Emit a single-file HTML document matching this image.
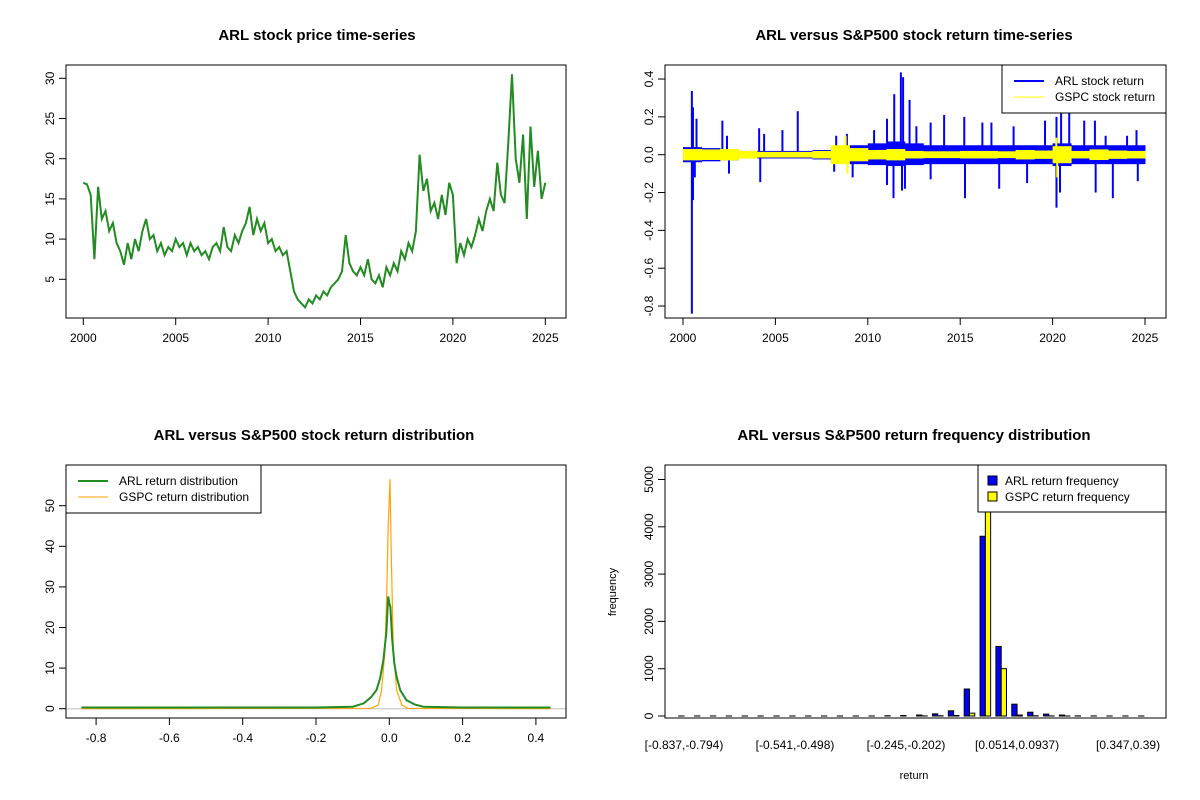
<!DOCTYPE html>
<html><head><meta charset="utf-8"><style>
body{margin:0;background:#fff}
svg{display:block;font-family:"Liberation Sans",Arial,sans-serif}
text{fill:#000}
</style></head><body>
<svg id="chart" width="1200" height="800" viewBox="0 0 1200 800">
<rect width="1200" height="800" fill="#fff"/>
</svg>
<script>
// ---------- DATA ----------
const priceStartYear = 2000;
const priceStepYears = 0.2;
const priceValues = [17.0,16.8,15.5,7.5,16.5, 12.5,13.5,11.0,12.0,9.5, 8.5,6.8,9.5,7.5,10.0, 8.5,11.0,12.5,10.0,10.5,
 8.5,9.5,8.0,9.0,8.5, 10.0,9.0,9.5,8.0,9.5, 8.5,9.0,8.0,8.5,7.5, 9.0,9.5,8.5,11.5,9.0, 8.5,10.5,9.5,11.0,12.0,
 14.0,10.5,12.5,11.0,12.0, 9.5,10.0,8.5,9.0,8.0, 8.5,6.0,3.5,2.5,2.0, 1.5,2.5,2.0,3.0,2.5, 3.5,3.0,4.0,4.5,5.0,
 6.0,10.5,7.0,6.0,5.5, 6.5,5.5,7.5,5.0,4.5, 5.5,4.0,6.5,5.5,7.0, 6.0,8.5,7.5,9.5,8.5, 11.0,20.5,16.0,17.5,13.5,
 14.5,12.5,15.5,13.0,17.0, 15.5,7.0,9.5,8.0,10.0, 9.0,10.5,12.5,11.0,13.5, 15.0,13.5,19.5,15.5,14.5,
 22.0,30.5,20.0,17.0,23.0, 12.5,24.0,16.5,21.0,15.0, 17.0];
const priceYTicks = [5,10,15,20,25,30];
const yearTicks = [2000,2005,2010,2015,2020,2025];

const bandYears = [2000,2001,2002,2003,2004,2005,2006,2007,2008,2009,2010,2011,2012,2013,2014,2015,2016,2017,2018,2019,2020,2021,2022,2023,2024];
const arlBandHi = [0.04,0.035,0.03,0.02,0.02,0.02,0.02,0.025,0.04,0.05,0.06,0.07,0.06,0.05,0.05,0.05,0.05,0.05,0.05,0.05,0.06,0.05,0.05,0.05,0.05];
const arlBandLo = [-0.04,-0.035,-0.03,-0.02,-0.02,-0.02,-0.02,-0.025,-0.04,-0.05,-0.055,-0.06,-0.055,-0.05,-0.05,-0.05,-0.05,-0.05,-0.05,-0.05,-0.06,-0.05,-0.05,-0.05,-0.05];
const gspcBand = [0.03,0.028,0.03,0.02,0.015,0.015,0.015,0.02,0.05,0.035,0.025,0.03,0.02,0.018,0.018,0.02,0.02,0.018,0.025,0.022,0.045,0.02,0.028,0.022,0.02];
const arlSpikeYears = [2000.48,2000.54,2000.73,2002.13,2002.38,2004.12,2004.39,2005.38,2006.21,2008.29,2008.87,2010.34,2011.04,2011.43,2011.79,2011.91,2012.26,2012.63,2013.40,2014.13,2015.22,2016.20,2016.69,2017.89,2019.59,2020.21,2020.46,2020.90,2021.71,2022.29,2022.87,2024.03,2024.54,
 2000.48,2000.54,2000.64,2002.49,2004.18,2008.18,2009.18,2011.04,2011.39,2011.85,2012.01,2013.40,2015.26,2017.11,2018.62,2020.21,2020.40,2022.33,2023.26,2024.61];
const arlSpikeValues = [0.337,0.25,0.19,0.18,0.10,0.14,0.11,0.13,0.23,0.10,0.11,0.13,0.19,0.32,0.435,0.41,0.29,0.15,0.17,0.21,0.20,0.17,0.17,0.15,0.18,0.20,0.25,0.22,0.18,0.18,0.10,0.10,0.13,
 -0.84,-0.24,-0.12,-0.10,-0.145,-0.09,-0.12,-0.16,-0.23,-0.19,-0.18,-0.13,-0.23,-0.18,-0.15,-0.28,-0.20,-0.20,-0.23,-0.14];
const gspcSpikeYears = [2008.8,2008.9,2020.2,2020.25];
const gspcSpikeValues = [0.10,-0.10,0.09,-0.12];
const returnYTicks = [-0.8,-0.6,-0.4,-0.2,0.0,0.2,0.4];
const returnYLabels = ["-0.8","-0.6","-0.4","-0.2","0.0","0.2","0.4"];

const arlDensX = [-0.84,-0.2,-0.1,-0.07,-0.05,-0.035,-0.025,-0.016,-0.008,-0.003,0,0.003,0.008,0.014,0.02,0.03,0.047,0.07,0.093,0.2,0.44];
const arlDensY = [0.3,0.3,0.5,1.3,2.8,4.6,7.5,12,19,27.6,26,25,17,11,7.9,4.5,2.1,1.0,0.5,0.3,0.3];
const gspcDensX = [-0.84,-0.05,-0.03,-0.021,-0.012,-0.007,-0.003,0.002,0.005,0.011,0.02,0.034,0.05,0.44];
const gspcDensY = [0,0.1,0.9,4.6,14,28,45,56.5,40,15,4.6,0.9,0.1,0];
const densXTicks = [-0.8,-0.6,-0.4,-0.2,0.0,0.2,0.4];
const densXLabels = ["-0.8","-0.6","-0.4","-0.2","0.0","0.2","0.4"];
const densYTicks = [0,10,20,30,40,50];

const arlFreq = [1,1,1,1,1,1,1,1,1,1,1,1,1,5,10,20,45,110,570,3800,1470,250,80,40,20,3,2,1,1,1];
const gspcFreq = [0,0,0,0,0,0,0,0,0,0,0,0,0,0,0,2,5,10,60,5700,1000,20,5,2,1,0,0,0,0,0];
const histLabelIdx = [0,7,14,21,28];
const histLabels = ["[-0.837,-0.794)","[-0.541,-0.498)","[-0.245,-0.202)","[0.0514,0.0937)","[0.347,0.39)"];
const freqYTicks = [0,1000,2000,3000,4000,5000];

// ---------- HELPERS ----------
const svg = document.getElementById('chart');
const NS = 'http://www.w3.org/2000/svg';
function mk(tag, attrs, parent){
  const e = document.createElementNS(NS, tag);
  for (const k in attrs) e.setAttribute(k, attrs[k]);
  (parent||svg).appendChild(e);
  return e;
}
function txt(s, x, y, size, anchor, parent, rot, bold){
  const t = mk('text', {x:x, y:y, 'font-size':size, 'text-anchor':anchor||'middle'}, parent);
  if (bold) t.setAttribute('font-weight','bold');
  if (rot) t.setAttribute('transform','rotate(-90 '+x+' '+y+')');
  t.textContent = s;
  return t;
}
function panel(name){
  const g = mk('g', {});
  
  
  return g;
}
function box(g, x0,y0,x1,y1){
  const r = mk('rect',{x:x0,y:y0,width:x1-x0,height:y1-y0,fill:'none',stroke:'#000','stroke-width':1}, g);
  
  
}
function xAxis(g, ticks, labels, sx, y, name){
  const a = mk('g',{}, g);
  
  
  mk('line',{x1:sx(ticks[0]),x2:sx(ticks[ticks.length-1]),y1:y,y2:y,stroke:'#000'},a);
  ticks.forEach((t,i)=>{
    mk('line',{x1:sx(t),x2:sx(t),y1:y,y2:y+7,stroke:'#000'},a);
    txt(labels[i], sx(t), y+24, 12, 'middle', a);
  });
}
function yAxis(g, ticks, labels, sy, x, name){
  const a = mk('g',{}, g);
  
  
  mk('line',{x1:x,x2:x,y1:sy(ticks[0]),y2:sy(ticks[ticks.length-1]),stroke:'#000'},a);
  ticks.forEach((t,i)=>{
    mk('line',{x1:x-7,x2:x,y1:sy(t),y2:sy(t),stroke:'#000'},a);
    txt(labels[i], x-12, sy(t), 12, 'middle', a, true);
  });
}
function legend(g, x0,y0,x1,y1, entries, name){
  const l = mk('g',{}, g);
  
  
  mk('rect',{x:x0,y:y0,width:x1-x0,height:y1-y0,fill:'#fff',stroke:'#000'},l);
  entries.forEach((e,i)=>{
    const cy = y0+16+i*16;
    if (e.type==='line') mk('line',{x1:x0+12,x2:x0+42,y1:cy,y2:cy,stroke:e.color,'stroke-width':e.w},l);
    else mk('rect',{x:x0+10,y:cy-5,width:9,height:9,fill:e.color,stroke:'#000'},l);
    txt(e.label, x0+(e.type==='line'?53:27), cy+4, 12, 'start', l);
  });
}

// ---------- PANEL 1: price ----------
(function(){
  const g = panel('price-panel');
  const sx = v => 83.3 + (v-2000)*(545.3-83.3)/25;
  const sy = v => 78.3 + (30-v)*(279.3-78.3)/25;
  txt('ARL stock price time-series', 317, 40, 15, 'middle', g, false, true);
  let d='';
  priceValues.forEach((v,i)=>{ d += (i?'L':'M')+sx(priceStartYear+i*priceStepYears).toFixed(1)+' '+sy(v).toFixed(1); });
  const p = mk('path',{d:d,fill:'none',stroke:'#228B22','stroke-width':2,'stroke-linejoin':'miter'},g);
  
  
  box(g,66,65,566,318);
  xAxis(g, yearTicks, yearTicks.map(String), sx, 318, 'x-axis');
  yAxis(g, priceYTicks, priceYTicks.map(String), sy, 66, 'y-axis');
})();

// ---------- PANEL 2: returns ----------
(function(){
  const g = panel('returns-panel');
  const sx = v => 683 + (v-2000)*(1145-683)/25;
  const sy = v => 154.7 - v*(303-76)/1.2;
  txt('ARL versus S&P500 stock return time-series', 914, 40, 15, 'middle', g, false, true);
  bandYears.forEach((y,i)=>{
    const r = mk('rect',{x:sx(y),y:sy(arlBandHi[i]),width:sx(y+1)-sx(y)+0.5,height:sy(arlBandLo[i])-sy(arlBandHi[i]),fill:'#0000FF'},g);
    
    
  });
  arlSpikeYears.forEach((y,i)=>{
    const l = mk('line',{x1:sx(y),x2:sx(y),y1:sy(0),y2:sy(arlSpikeValues[i]),stroke:'#0000FF','stroke-width':2},g);
    
    
  });
  bandYears.forEach((y,i)=>{
    const r = mk('rect',{x:sx(y),y:sy(gspcBand[i]),width:sx(y+1)-sx(y)+0.5,height:sy(-gspcBand[i])-sy(gspcBand[i]),fill:'#FFFF00'},g);
    
    
  });
  gspcSpikeYears.forEach((y,i)=>{
    const l = mk('line',{x1:sx(y),x2:sx(y),y1:sy(0),y2:sy(gspcSpikeValues[i]),stroke:'#FFFF00','stroke-width':2},g);
    
    
  });
  box(g,665,65,1166,318);
  xAxis(g, yearTicks, yearTicks.map(String), sx, 318, 'x-axis');
  yAxis(g, returnYTicks, returnYLabels, sy, 665, 'y-axis');
  legend(g,1002,65,1166,113,[{type:'line',color:'#0000FF',w:2,label:'ARL stock return'},{type:'line',color:'#FFFF00',w:1,label:'GSPC stock return'}],'legend');
})();

// ---------- PANEL 3: density ----------
(function(){
  const g = panel('density-panel');
  const sx = v => 389.3 + v*73.3/0.2;
  const sy = v => 708.7 - v*4.06;
  txt('ARL versus S&P500 stock return distribution', 314, 440, 15, 'middle', g, false, true);
  const base = mk('line',{x1:67,x2:566,y1:sy(0),y2:sy(0),stroke:'#bebebe'},g);
  
  
  function curve(xs, ys, color, w, name){
    let d='';
    xs.forEach((x,i)=>{ d += (i?'L':'M')+sx(x).toFixed(1)+' '+sy(ys[i]).toFixed(1); });
    const p = mk('path',{d:d,fill:'none',stroke:color,'stroke-width':w},g);
    
    
  }
  curve(gspcDensX, gspcDensY, '#FFA500', 1.2, 'gspc-density-line');
  curve(arlDensX, arlDensY, '#228B22', 2, 'arl-density-line');
  box(g,66,465,566,718);
  xAxis(g, densXTicks, densXLabels, sx, 718, 'x-axis');
  yAxis(g, densYTicks, densYTicks.map(String), sy, 66, 'y-axis');
  legend(g,66,465,261,513,[{type:'line',color:'#228B22',w:2,label:'ARL return distribution'},{type:'line',color:'#FFA500',w:1,label:'GSPC return distribution'}],'legend');
})();

// ---------- PANEL 4: histogram ----------
(function(){
  const g = panel('histogram-panel');
  const pitch = 15.86, bw = 5.29, c0 = 684;
  const sy = v => 716 - v*0.0473;
  txt('ARL versus S&P500 return frequency distribution', 914, 440, 15, 'middle', g, false, true);
  const clip = mk('clipPath',{id:'hclip'},g);
  mk('rect',{x:665,y:465,width:501,height:253},clip);
  const bars = mk('g',{'clip-path':'url(#hclip)'},g);
  arlFreq.forEach((v,i)=>{
    const cx = c0 + i*pitch;
    const a = mk('rect',{x:cx-bw,y:sy(v),width:bw,height:v*0.0473,fill:'#0000FF',stroke:'#000','stroke-width':1},bars);
    
    
    const b = mk('rect',{x:cx,y:sy(gspcFreq[i]),width:bw,height:gspcFreq[i]*0.0473,fill:'#FFFF00',stroke:'#000','stroke-width':1},bars);
    
    
  });
  box(g,665,465,1166,718);
  const xa = mk('g',{},g);
  
  
  histLabelIdx.forEach((k,i)=>{ txt(histLabels[i], c0+k*pitch, 749, 12, 'middle', xa); });
  yAxis(g, freqYTicks, freqYTicks.map(String), sy, 665, 'y-axis');
  const xt = txt('return', 914, 779, 11, 'middle', g);
  
  
  const yt = txt('frequency', 616, 592, 11, 'middle', g, true);
  
  
  legend(g,978,465,1166,512,[{type:'box',color:'#0000FF',label:'ARL return frequency'},{type:'box',color:'#FFFF00',label:'GSPC return frequency'}],'legend');
})();
</script>
</body></html>
